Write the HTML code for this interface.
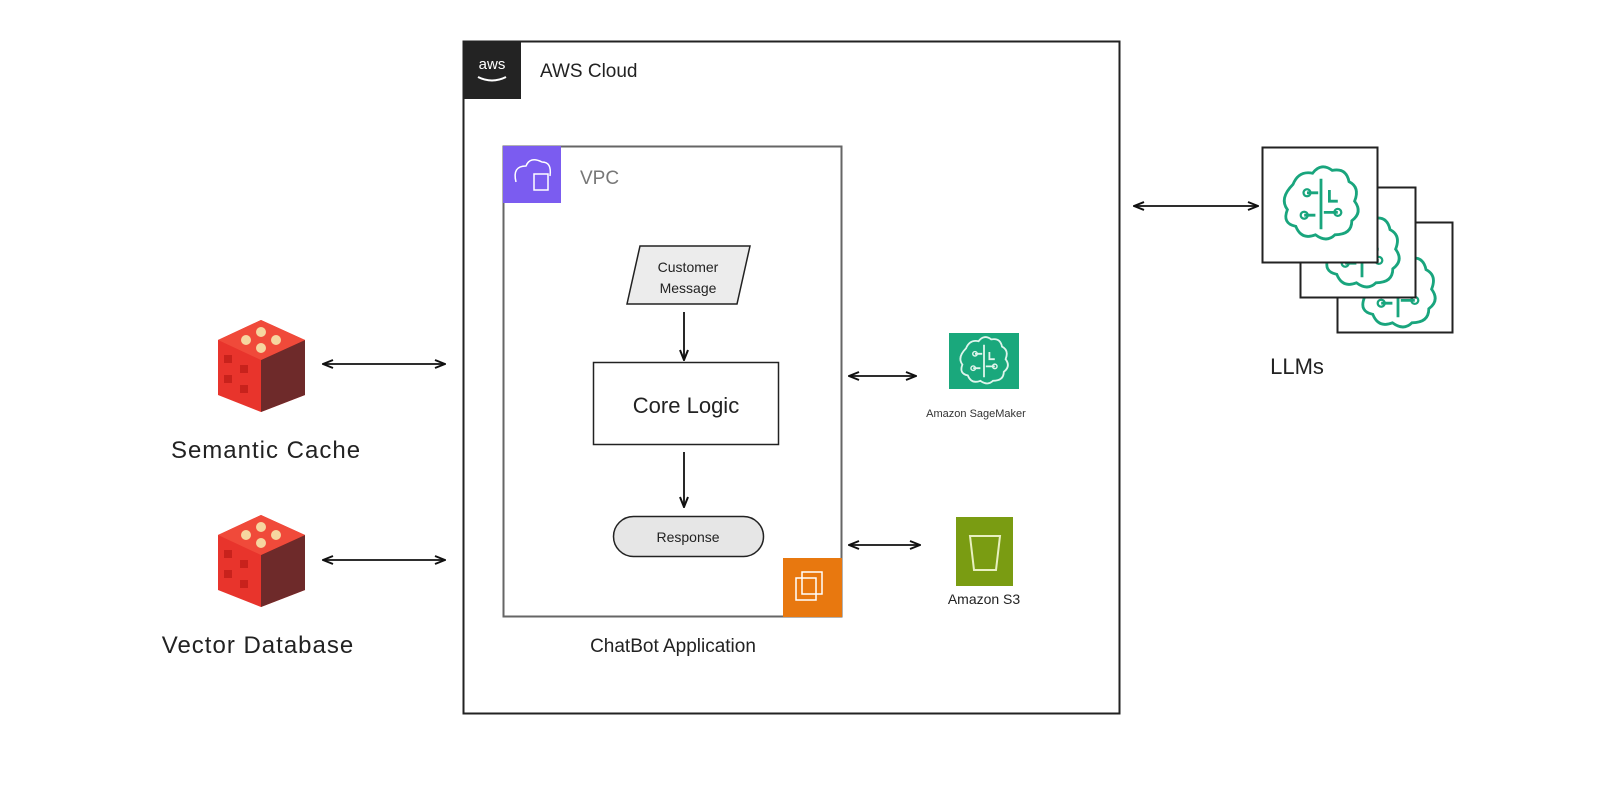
<!DOCTYPE html>
<html><head><meta charset="utf-8"><style>
body{margin:0;background:#fff;}
svg text{font-family:"Liberation Sans",sans-serif;}
</style></head><body>
<svg width="1600" height="800" viewBox="0 0 1600 800" xmlns="http://www.w3.org/2000/svg">
<defs>
<marker id="a" markerWidth="12" markerHeight="10" refX="11" refY="5" orient="auto-start-reverse" markerUnits="userSpaceOnUse">
<path d="M1,1 L11,5 L1,9" fill="none" stroke="#111" stroke-width="2"/></marker>
<g id="brain">
<path d="M-20,-14 q4,-10 14,-8 q6,-8 14,-2 q10,-2 12,8 q8,4 4,14 q6,8 -2,14 q0,10 -12,10 q-6,6 -14,0 q-10,4 -14,-6 q-10,-2 -6,-12 q-6,-8 4,-18z" fill="none" stroke="currentColor" stroke-width="2"/>
<path d="M0,-18 v36 M-10,-8 h8 M2,6 h10 M-12,8 h8 M6,-10 v8 h6" fill="none" stroke="currentColor" stroke-width="2"/>
<circle cx="-10" cy="-8" r="2.5" fill="none" stroke="currentColor" stroke-width="1.6"/>
<circle cx="12" cy="6" r="2.5" fill="none" stroke="currentColor" stroke-width="1.6"/>
<circle cx="-12" cy="8" r="2.5" fill="none" stroke="currentColor" stroke-width="1.6"/>
</g>
<g id="cube">
<path d="M43,0 L87,20 L87,75 L43,92 L0,75 L0,20Z" fill="#e8342c"/>
<path d="M43,40 L87,20 L87,75 L43,92Z" fill="#6e2a2a"/>
<path d="M0,20 L43,0 L87,20 L43,40Z" fill="#f04a3a"/>
<circle cx="43" cy="12" r="5" fill="#f6d6a0"/><circle cx="28" cy="20" r="5" fill="#f6d6a0"/><circle cx="58" cy="20" r="5" fill="#f6d6a0"/><circle cx="43" cy="28" r="5" fill="#f6d6a0"/>
<g fill="#c8221c"><rect x="6" y="35" width="8" height="8"/><rect x="22" y="45" width="8" height="8"/><rect x="6" y="55" width="8" height="8"/><rect x="22" y="65" width="8" height="8"/></g>
</g>
</defs>

<rect x="463.5" y="41.5" width="656" height="672" fill="none" stroke="#222" stroke-width="2"/>
<rect x="463" y="41" width="58" height="58" fill="#232323"/>
<text x="492" y="69" font-size="15" fill="#fff" text-anchor="middle">aws</text>
<path d="M478,77 q14,7 28,0" stroke="#fff" stroke-width="2" fill="none"/>
<text x="540" y="77" font-size="19" fill="#222">AWS Cloud</text>

<rect x="503.5" y="146.5" width="338" height="470" fill="none" stroke="#666" stroke-width="2"/>
<rect x="503" y="146" width="58" height="57" fill="#7b5cf0"/>
<path d="M516,182 q-4,-16 10,-16 q4,-10 16,-4 q10,0 8,14" fill="none" stroke="#fff" stroke-width="1.5"/>
<rect x="534" y="174" width="14" height="16" fill="none" stroke="#fff" stroke-width="1.5"/>
<text x="580" y="184" font-size="19" fill="#777">VPC</text>

<path d="M640,246 L750,246 L737,304 L627,304Z" fill="#ececec" stroke="#222" stroke-width="1.5"/>
<text x="688" y="272" font-size="14" text-anchor="middle" fill="#222">Customer</text>
<text x="688" y="293" font-size="14" text-anchor="middle" fill="#222">Message</text>
<line x1="684" y1="312" x2="684" y2="360" stroke="#111" stroke-width="1.8" marker-end="url(#a)"/>
<rect x="593.5" y="362.5" width="185" height="82" fill="#fff" stroke="#222" stroke-width="1.5"/>
<text x="686" y="413" font-size="22" text-anchor="middle" fill="#222">Core Logic</text>
<line x1="684" y1="452" x2="684" y2="507" stroke="#111" stroke-width="1.8" marker-end="url(#a)"/>
<rect x="613.5" y="516.5" width="150" height="40" rx="20" fill="#e6e6e6" stroke="#222" stroke-width="1.5"/>
<text x="688" y="542" font-size="14" text-anchor="middle" fill="#222">Response</text>
<rect x="783" y="558" width="59" height="59" fill="#e8780f"/>
<rect x="796" y="578" width="20" height="22" fill="none" stroke="#fff" stroke-width="1.5"/>
<rect x="802" y="572" width="20" height="22" fill="none" stroke="#fff" stroke-width="1.5"/>
<text x="673" y="652" font-size="19" text-anchor="middle" fill="#222">ChatBot Application</text>

<use href="#cube" x="218" y="320"/>
<use href="#cube" x="218" y="515"/>
<text x="266" y="458" font-size="24" text-anchor="middle" fill="#222" letter-spacing="1">Semantic Cache</text>
<text x="258" y="653" font-size="24" text-anchor="middle" fill="#222" letter-spacing="1">Vector Database</text>
<line x1="323" y1="364" x2="445" y2="364" stroke="#111" stroke-width="1.8" marker-start="url(#a)" marker-end="url(#a)"/>
<line x1="323" y1="560" x2="445" y2="560" stroke="#111" stroke-width="1.8" marker-start="url(#a)" marker-end="url(#a)"/>

<line x1="849" y1="376" x2="916" y2="376" stroke="#111" stroke-width="1.8" marker-start="url(#a)" marker-end="url(#a)"/>
<line x1="849" y1="545" x2="920" y2="545" stroke="#111" stroke-width="1.8" marker-start="url(#a)" marker-end="url(#a)"/>
<line x1="1134" y1="206" x2="1258" y2="206" stroke="#111" stroke-width="1.8" marker-start="url(#a)" marker-end="url(#a)"/>

<rect x="949" y="333" width="70" height="56" fill="#1aa87c"/>
<g transform="translate(984,361) scale(0.9)" color="#dff5ec"><use href="#brain"/></g>
<text x="976" y="417" font-size="11" text-anchor="middle" fill="#333">Amazon SageMaker</text>
<rect x="956" y="517" width="57" height="69" fill="#7a9c12"/>
<path d="M970,536 h30 l-4,34 h-22z" fill="none" stroke="#e8f0c0" stroke-width="2"/>
<text x="984" y="604" font-size="14" text-anchor="middle" fill="#222">Amazon S3</text>

<rect x="1337.5" y="222.5" width="115" height="110" fill="#fff" stroke="#222" stroke-width="2"/>
<g transform="translate(1398,292) scale(1.4)" color="#19a57d"><use href="#brain"/></g>
<rect x="1300.5" y="187.5" width="115" height="110" fill="#fff" stroke="#222" stroke-width="2"/>
<g transform="translate(1362,252) scale(1.4)" color="#19a57d"><use href="#brain"/></g>
<rect x="1262.5" y="147.5" width="115" height="115" fill="#fff" stroke="#222" stroke-width="2"/>
<g transform="translate(1321,204) scale(1.4)" color="#19a57d"><use href="#brain"/></g>
<text x="1297" y="374" font-size="22" text-anchor="middle" fill="#222">LLMs</text>
</svg>
</body></html>
